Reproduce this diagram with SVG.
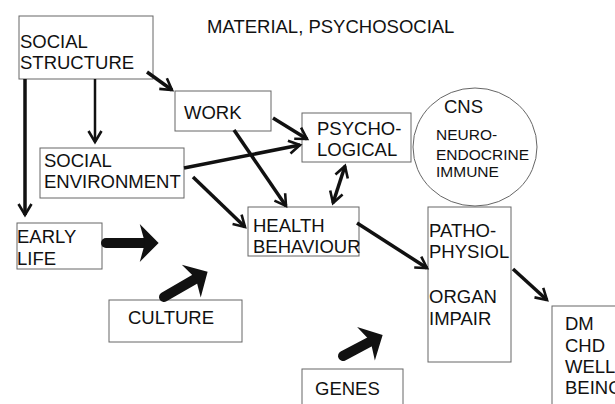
<svg xmlns="http://www.w3.org/2000/svg" width="615" height="404" viewBox="0 0 615 404">
<style>
  .box { fill: none; stroke: #666; stroke-width: 1; }
  .t { font-family: "Liberation Sans", Arial, sans-serif; font-size: 18.5px; fill: #111; }
  .s { font-size: 15.5px; }
  .ln { fill: none; stroke: #111; stroke-width: 3.5; marker-end: url(#ah); }
  .thin { stroke-width: 2.5; }
  .blk { fill: none; stroke: #111; stroke-width: 10; stroke-linecap: round; marker-end: url(#bh); }
</style>
<defs>
  <marker id="ah" markerUnits="userSpaceOnUse" markerWidth="16" markerHeight="16" viewBox="-13 -8 16 16" refX="0" refY="0" orient="auto-start-reverse">
    <path d="M-11,-6.5 L0,0 L-11,6.5" fill="none" stroke="#111" stroke-width="2.6" stroke-linejoin="miter"/>
  </marker>
  <marker id="bh" markerUnits="userSpaceOnUse" markerWidth="24" markerHeight="42" viewBox="-1 -20 22 40" refX="5" refY="0" orient="auto">
    <path d="M0,-18 L18,0 L0,18 L5,0 Z" fill="#111"/>
  </marker>
</defs>
<rect width="615" height="404" fill="#fff"/>

<text class="t" x="207" y="33">MATERIAL, PSYCHOSOCIAL</text>

<g id="social-structure">
  <rect class="box" x="19" y="16" width="134" height="63"/>
  <text class="t" x="20" y="48">SOCIAL</text>
  <text class="t" x="20" y="69">STRUCTURE</text>
</g>
<g id="work">
  <rect class="box" x="175" y="91" width="96" height="40"/>
  <text class="t" x="184" y="119">WORK</text>
</g>
<g id="psychological">
  <rect class="box" x="302" y="113" width="109" height="49"/>
  <text class="t" x="317" y="135">PSYCHO-</text>
  <text class="t" x="317" y="156">LOGICAL</text>
</g>
<g id="cns">
  <ellipse class="box" cx="475" cy="147" rx="62" ry="59"/>
  <text class="t" x="444" y="113">CNS</text>
  <text class="t s" x="436" y="140">NEURO-</text>
  <text class="t s" x="436" y="160">ENDOCRINE</text>
  <text class="t s" x="436" y="177">IMMUNE</text>
</g>
<g id="social-environment">
  <rect class="box" x="40" y="148" width="144" height="50"/>
  <text class="t" x="44" y="167">SOCIAL</text>
  <text class="t" x="44" y="188">ENVIRONMENT</text>
</g>
<g id="early-life">
  <rect class="box" x="17" y="223" width="85" height="46"/>
  <text class="t" x="17" y="243">EARLY</text>
  <text class="t" x="17" y="265">LIFE</text>
</g>
<g id="culture">
  <rect class="box" x="109" y="300" width="133" height="42"/>
  <text class="t" x="128" y="324">CULTURE</text>
</g>
<g id="health-behaviour">
  <rect class="box" x="248" y="207" width="111" height="49"/>
  <text class="t" x="253" y="232">HEALTH</text>
  <text class="t" x="253" y="253">BEHAVIOUR</text>
</g>
<g id="pathophysiol">
  <rect class="box" x="428" y="207" width="83" height="155"/>
  <text class="t" x="429" y="237">PATHO-</text>
  <text class="t" x="429" y="258">PHYSIOL</text>
  <text class="t" x="429" y="303">ORGAN</text>
  <text class="t" x="429" y="325">IMPAIR</text>
</g>
<g id="outcomes">
  <rect class="box" x="552" y="306" width="70" height="110"/>
  <text class="t" x="565" y="330">DM</text>
  <text class="t" x="565" y="352">CHD</text>
  <text class="t" x="565" y="373">WELL</text>
  <text class="t" x="565" y="394">BEING</text>
</g>
<g id="genes">
  <rect class="box" x="302" y="369" width="101" height="45"/>
  <text class="t" x="315" y="395">GENES</text>
</g>

<g id="connectors">
  <line class="ln" x1="147" y1="72" x2="172" y2="90"/>
  <line class="ln thin" x1="95" y1="79" x2="95" y2="142"/>
  <line class="ln" x1="25" y1="79" x2="25" y2="215"/>
  <line class="ln" x1="273" y1="118" x2="307" y2="139"/>
  <line class="ln" x1="184" y1="168" x2="300" y2="145"/>
  <line class="ln" x1="234" y1="130" x2="286" y2="206"/>
  <line class="ln" x1="193" y1="177" x2="245" y2="227"/>
  <line class="ln" x1="333" y1="203" x2="345" y2="166" marker-start="url(#ah)"/>
  <line class="ln" x1="357" y1="223" x2="427" y2="268"/>
  <line class="ln" x1="513" y1="269" x2="547" y2="300"/>
  <line class="blk" x1="106" y1="243" x2="145" y2="243"/>
  <line class="blk" x1="164" y1="297" x2="195.8" y2="278.6"/>
  <line class="blk" x1="343" y1="356" x2="370.6" y2="341.3"/>
</g>
</svg>
